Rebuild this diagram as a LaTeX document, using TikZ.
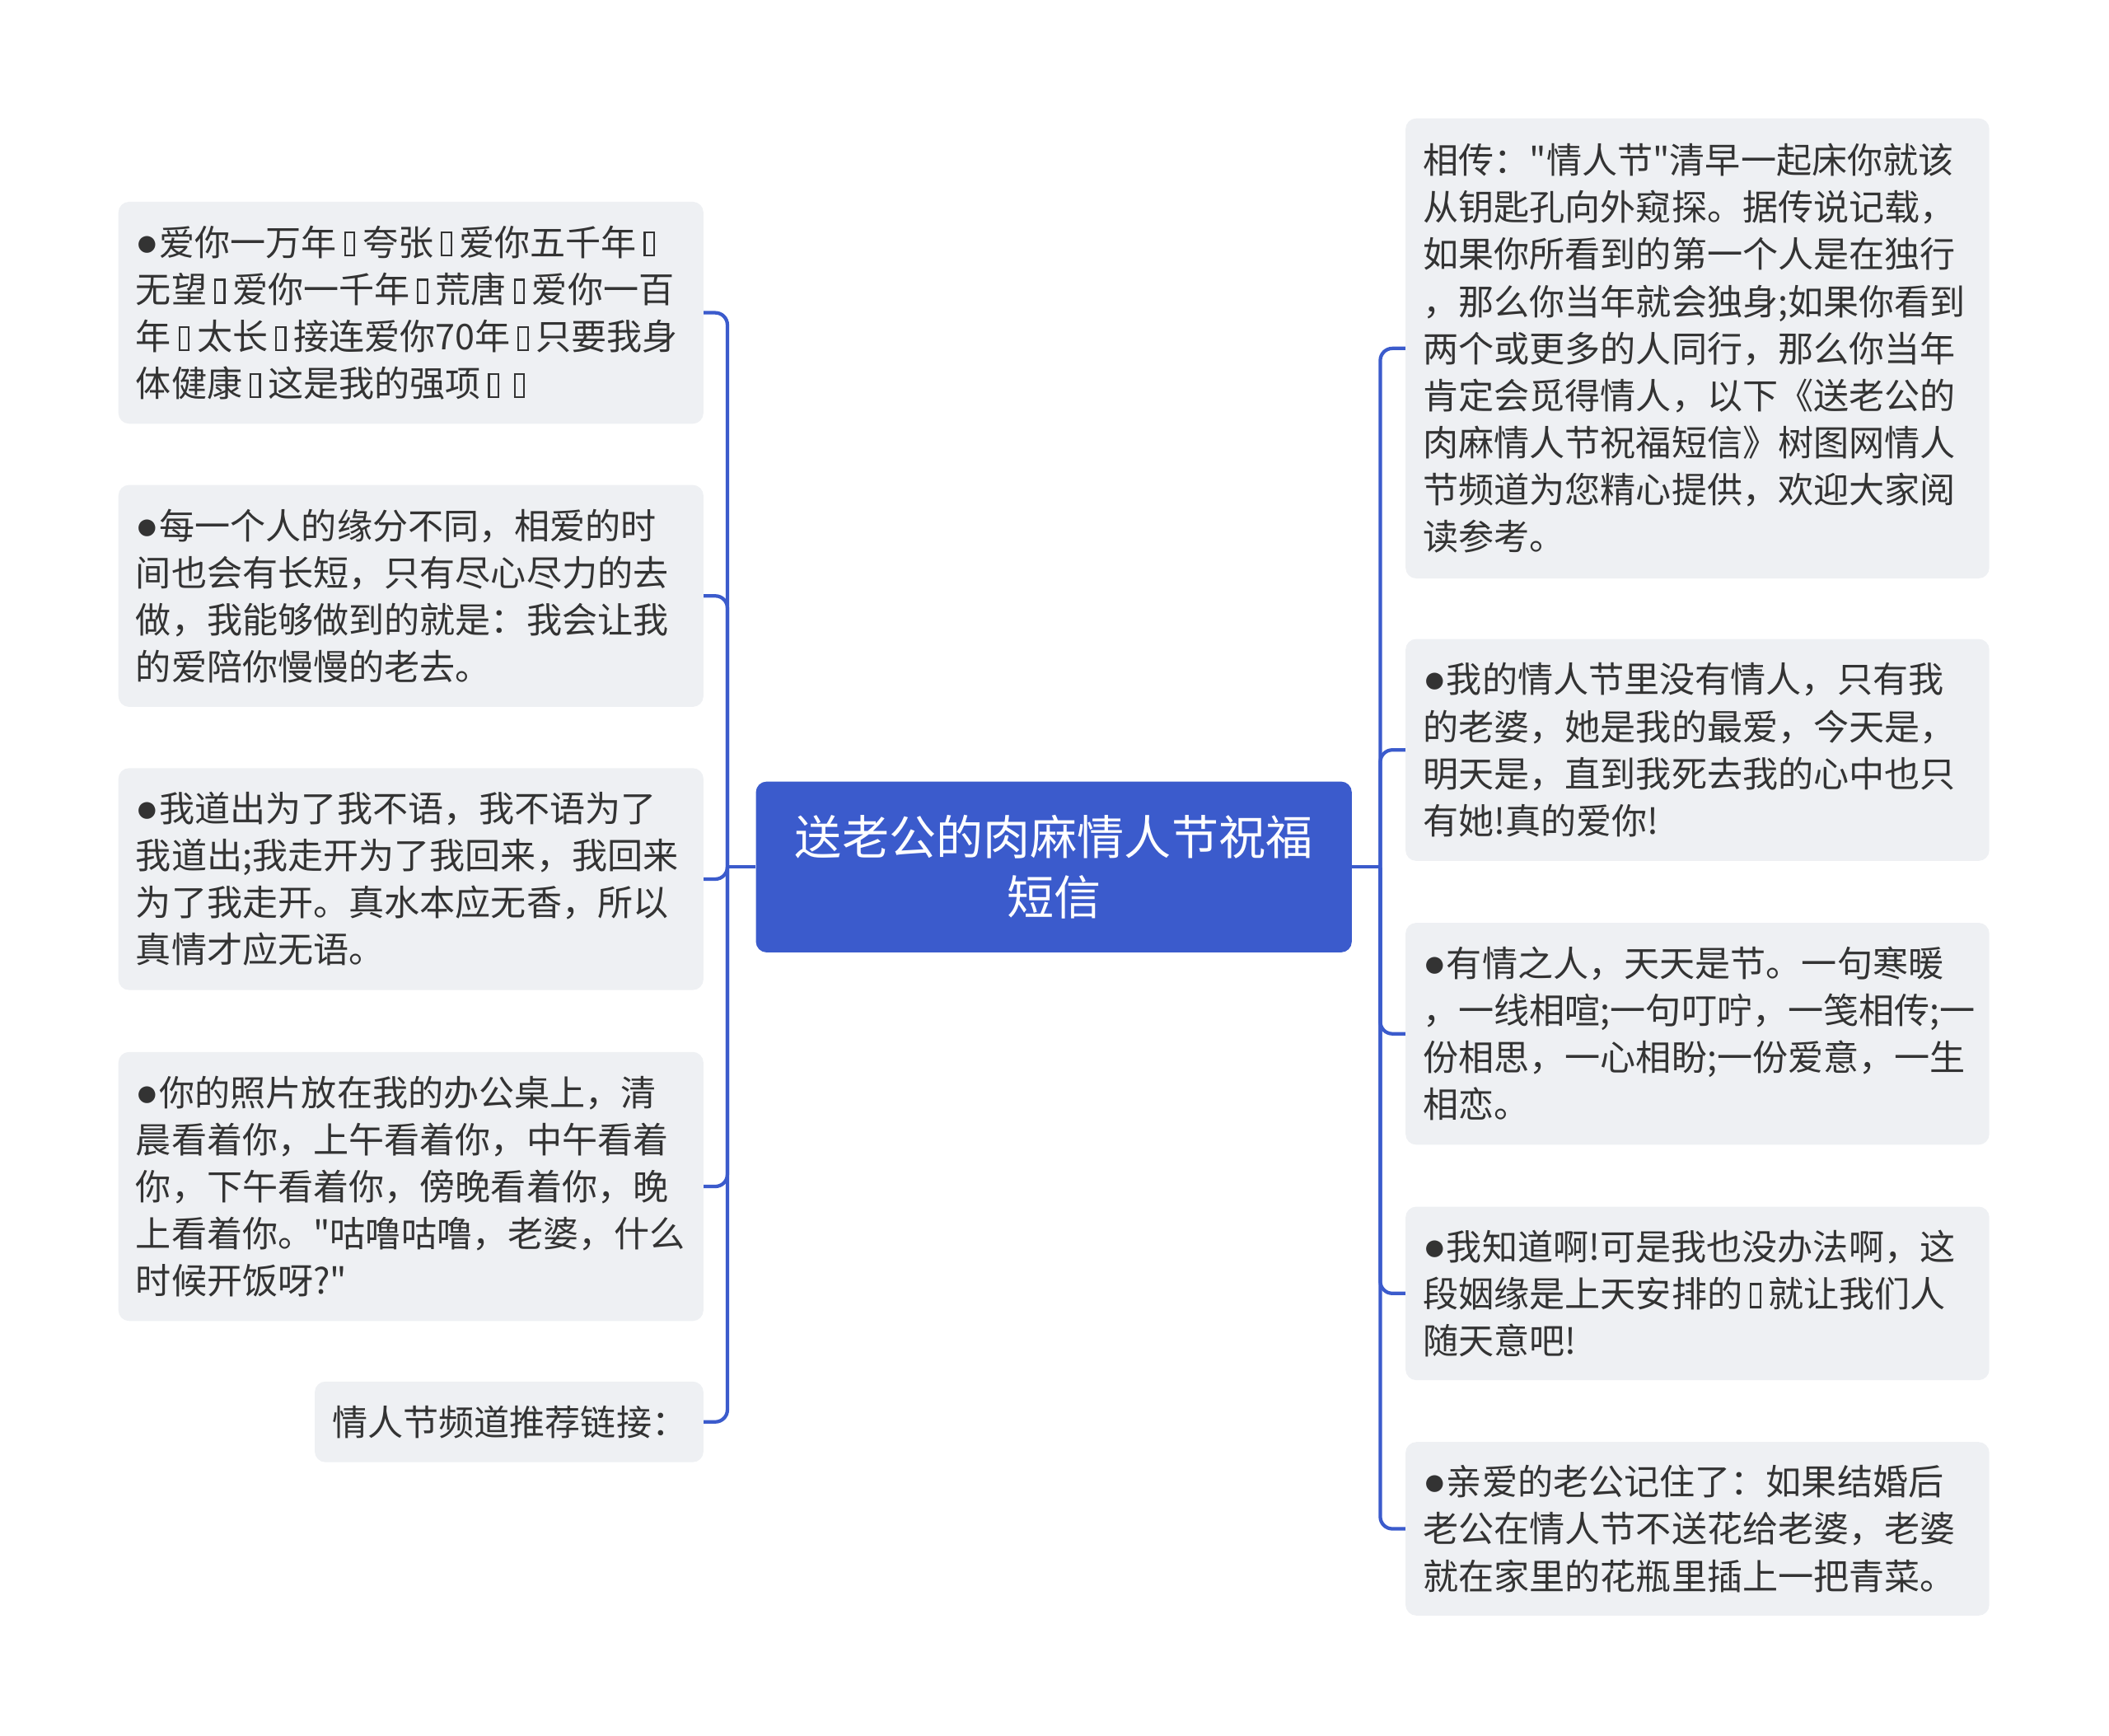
\documentclass[tikz,border=0pt]{standalone}
\usepackage{fontspec}
\setmainfont{Noto Sans CJK SC}[Ligatures=TeXOff]
\newfontfamily\dotfont{Liberation Sans}
\usetikzlibrary{positioning}
\definecolor{mapblue}{HTML}{3B5BCC}
\definecolor{mapgray}{HTML}{EEF0F3}
\definecolor{maptext}{HTML}{333333}

\newcommand\bulletdot{{\dotfont\fontsize{29pt}{35pt}\selectfont ●}}
\newcommand\tofu{\kern0.2em\lower0.03em\vbox{\hrule height0.05em width0.32em\hbox{\vrule width0.05em height0.6em\kern0.22em\vrule width0.05em}\hrule height0.05em width0.32em}\kern0.2em}

\begin{document}
\begin{tikzpicture}[x=1pt, y=-1pt,
  every node/.style={font=\fontsize{26.4pt}{35pt}\selectfont, text=maptext},
  leafbox/.style={rectangle, rounded corners=8pt, fill=mapgray, align=left, inner xsep=13pt, inner ysep=0pt, text width=409pt},
  rootbox/.style={rectangle, rounded corners=8pt, fill=mapblue, text=white, align=center, minimum width=443pt, minimum height=127pt, font=\fontsize{35pt}{45pt}\selectfont},
  link/.style={draw=mapblue, line width=2.6pt, rounded corners=9pt},
]
\useasboundingbox (0,0) rectangle (1568,1290);

\node[rootbox] (root) at (783.5, 644.5) {送老公的肉麻情人节祝福\\短信};

% left side
\node[leafbox, minimum height=165pt] (l1) at (305.5, 232.5) {\bulletdot 爱你一万年\tofu 夸张\tofu 爱你五千年\tofu\\无望\tofu 爱你一千年\tofu 荒唐\tofu 爱你一百\\年\tofu 太长\tofu 接连爱你70年\tofu 只要我身\\体健康\tofu 这是我的强项\tofu\tofu};
\node[leafbox, minimum height=165pt] (l2) at (305.5, 443) {\bulletdot 每一个人的缘分不同，相爱的时\\间也会有长短，只有尽心尽力的去\\做，我能够做到的就是：我会让我\\的爱陪你慢慢的老去。};
\node[leafbox, minimum height=165pt] (l3) at (305.5, 653.5) {\bulletdot 我道出为了我不语，我不语为了\\我道出;我走开为了我回来，我回来\\为了我走开。真水本应无香，所以\\真情才应无语。};
\node[leafbox, minimum height=200pt] (l4) at (305.5, 882) {\bulletdot 你的照片放在我的办公桌上，清\\晨看着你，上午看着你，中午看着\\你，下午看着你，傍晚看着你，晚\\上看着你。"咕噜咕噜，老婆，什么\\时候开饭呀?"};
\node[leafbox, minimum height=60pt, text width=263pt] (l5) at (378.5, 1057) {情人节频道推荐链接：};

% right side
\node[leafbox, minimum height=342pt, text width=408pt] (r1) at (1262, 259) {相传："情人节"清早一起床你就该\\从钥匙孔向外窥探。据传说记载，\\如果你所看到的第一个人是在独行\\，那么你当年就会独身;如果你看到\\两个或更多的人同行，那么你当年\\肯定会觅得情人，以下《送老公的\\肉麻情人节祝福短信》树图网情人\\节频道为您精心提供，欢迎大家阅\\读参考。};
\node[leafbox, minimum height=165pt, text width=408pt] (r2) at (1262, 557.5) {\bulletdot 我的情人节里没有情人，只有我\\的老婆，她是我的最爱，今天是，\\明天是，直到我死去我的心中也只\\有她!真的爱你!};
\node[leafbox, minimum height=165pt, text width=408pt] (r3) at (1262, 768.5) {\bulletdot 有情之人，天天是节。一句寒暖\\，一线相喧;一句叮咛，一笺相传;一\\份相思，一心相盼;一份爱意，一生\\相恋。};
\node[leafbox, minimum height=129pt, text width=408pt] (r4) at (1262, 961.5) {\bulletdot 我知道啊!可是我也没办法啊，这\\段姻缘是上天安排的\tofu 就让我们人\\随天意吧!};
\node[leafbox, minimum height=129pt, text width=408pt] (r5) at (1262, 1136.5) {\bulletdot 亲爱的老公记住了：如果结婚后\\老公在情人节不送花给老婆，老婆\\就在家里的花瓶里插上一把青菜。};

% connectors
\coordinate[left=21pt of root.west] (ljoin);
\coordinate[right=21pt of root.east] (rjoin);
\draw[link] (root.west) -- (ljoin);
\draw[link] (root.east) -- (rjoin);
\foreach \leaf in {l1,l2,l3,l4,l5}
  \draw[link] (ljoin) |- (\leaf.east);
\foreach \leaf in {r1,r2,r3,r4,r5}
  \draw[link] (rjoin) |- (\leaf.west);

\end{tikzpicture}
\end{document}
